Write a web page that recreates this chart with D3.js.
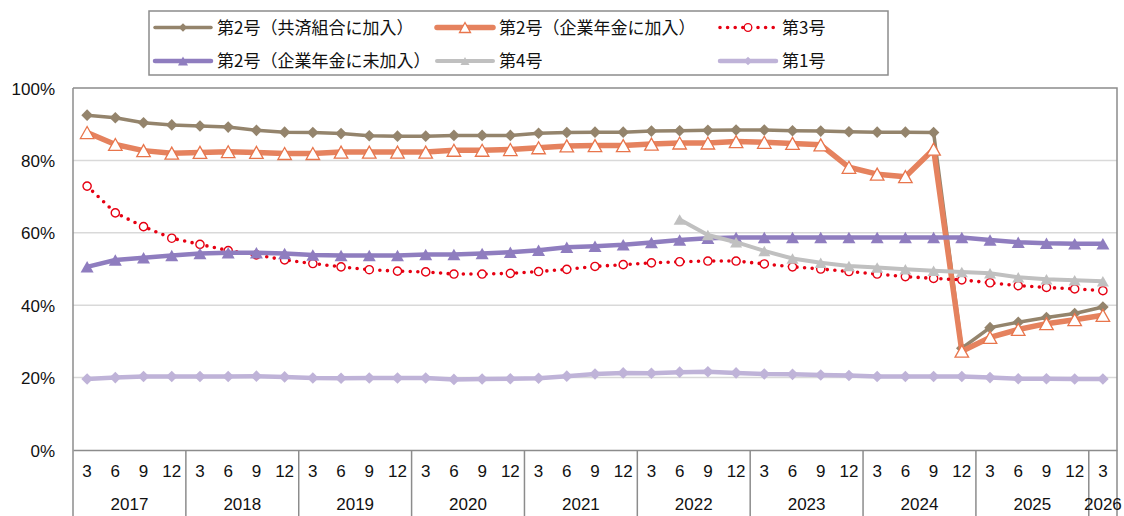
<!DOCTYPE html>
<html>
<head>
<meta charset="utf-8">
<script src="https://cdn.jsdelivr.net/npm/d3@7"></script>
<style>
  html, body { margin: 0; padding: 0; background: #fff; }
  svg { display: block; }
  .num { font-family: "Liberation Sans", Arial, sans-serif; font-size: 17px; fill: #111; }
  .leg { font-family: "Noto Sans CJK JP", sans-serif; font-size: 17px; fill: #111; }
</style>
</head>
<body>
<svg id="chart" width="1124" height="516"></svg>
<script>
// Quarter-end months, 2017-3 through 2026-3
const months = [3,6,9,12, 3,6,9,12, 3,6,9,12, 3,6,9,12, 3,6,9,12,
                3,6,9,12, 3,6,9,12, 3,6,9,12, 3,6,9,12, 3];
const years  = [2017,2017,2017,2017, 2018,2018,2018,2018, 2019,2019,2019,2019,
                2020,2020,2020,2020, 2021,2021,2021,2021, 2022,2022,2022,2022,
                2023,2023,2023,2023, 2024,2024,2024,2024, 2025,2025,2025,2025, 2026];
const yTicks = [0, 20, 40, 60, 80, 100];

// Shares (%) per quarter
const kyosai = [92.5,91.8,90.4,89.8, 89.5,89.2,88.3,87.8, 87.7,87.4,86.8,86.7,
                86.7,86.9,86.9,86.9, 87.5,87.7,87.8,87.8, 88.1,88.2,88.3,88.4,
                88.4,88.2,88.1,87.9, 87.8,87.8,87.7,28.1, 33.8,35.3,36.6,37.7, 39.5];
const kigyoKanyu = [87.7,84.4,82.7,82.0, 82.2,82.4,82.2,81.9, 81.9,82.3,82.3,82.3,
                82.3,82.8,82.8,83.0, 83.5,84.0,84.1,84.1, 84.5,84.8,84.8,85.2,
                85.0,84.7,84.3,78.1, 76.2,75.5,83.1,27.3, 31.1,33.3,34.9,36.0, 37.2];
const dai3 = [72.9,65.5,61.7,58.5, 56.8,55.1,53.9,52.5, 51.5,50.6,49.8,49.4,
              49.2,48.6,48.6,48.8, 49.3,49.9,50.7,51.2, 51.7,52.0,52.2,52.2,
              51.4,50.6,50.0,49.3, 48.6,47.9,47.4,47.0, 46.2,45.4,44.9,44.5, 44.0];
const kigyoMikanyu = [50.6,52.5,53.1,53.7, 54.3,54.5,54.5,54.3, 53.9,53.7,53.7,53.7,
              54.0,54.0,54.3,54.6, 55.2,56.0,56.3,56.7, 57.3,58.0,58.5,58.7,
              58.7,58.7,58.7,58.7, 58.7,58.7,58.7,58.7, 58.0,57.4,57.1,57.0, 57.0];
const dai4 = [null,null,null,null, null,null,null,null, null,null,null,null,
              null,null,null,null, null,null,null,null, null,63.7,59.4,57.4,
              55.0,52.9,51.7,50.8, 50.4,49.9,49.5,49.2, 48.8,47.7,47.2,46.9, 46.6];
const dai1 = [19.6,20.0,20.3,20.3, 20.3,20.3,20.4,20.2, 19.9,19.8,19.9,19.9,
              19.9,19.5,19.6,19.7, 19.8,20.4,21.0,21.3, 21.2,21.5,21.6,21.3,
              21.0,20.9,20.7,20.6, 20.3,20.3,20.3,20.3, 20.0,19.7,19.7,19.6, 19.6];

const seriesNames = ["第2号（共済組合に加入）", "第2号（企業年金に加入）", "第3号",
                     "第2号（企業年金に未加入）", "第4号", "第1号"];

const svg = d3.select("#chart");
const L = 73, R = 1117, T = 88, B = 450;

const x = d3.scaleBand().domain(d3.range(months.length)).range([L, R]);
const y = d3.scaleLinear().domain([0, 100]).range([B, T]);
const cx = i => x(i) + x.bandwidth() / 2;

// gridlines
svg.append("g").selectAll("line").data(yTicks.filter(t => t > 0 && t < 100)).join("line")
  .attr("x1", L).attr("x2", R).attr("y1", d => y(d)).attr("y2", d => y(d))
  .attr("stroke", "#d9d9d9").attr("stroke-width", 1.5);

// plot frame (top, right)
svg.append("path")
  .attr("d", `M${L},${y(100)}H${R}V516`)
  .attr("fill", "none").attr("stroke", "#8c8c8c").attr("stroke-width", 1.5);

// y axis
const yAxis = svg.append("g").attr("transform", `translate(${L},0)`)
  .call(d3.axisLeft(y).tickValues(yTicks).tickFormat(d => d + "%").tickSize(0).tickPadding(18));
yAxis.select(".domain").remove();
yAxis.selectAll("text").attr("class", "num").attr("dy", "0.36em");
svg.append("line").attr("x1", L).attr("x2", L).attr("y1", T).attr("y2", 516)
  .attr("stroke", "#8c8c8c").attr("stroke-width", 1.5);

// x axis baseline + month labels
const xAxis = svg.append("g").attr("transform", `translate(0,${B})`)
  .call(d3.axisBottom(x).tickFormat(i => months[i]).tickSize(0));
xAxis.select(".domain").attr("stroke", "#8c8c8c").attr("stroke-width", 1.5);
xAxis.selectAll("text").attr("class", "num").attr("y", 27).attr("dy", 0);

// year groups
const yearGroups = d3.groups(d3.range(years.length), i => years[i]);
svg.append("g").selectAll("line").data(yearGroups.slice(1)).join("line")
  .attr("x1", d => x(d[1][0])).attr("x2", d => x(d[1][0]))
  .attr("y1", B).attr("y2", 516)
  .attr("stroke", "#8c8c8c").attr("stroke-width", 1.5);
svg.append("g").selectAll("text").data(yearGroups).join("text")
  .attr("class", "num")
  .attr("x", d => (x(d[1][0]) + x(d[1][d[1].length - 1]) + x.bandwidth()) / 2)
  .attr("y", 510)
  .attr("text-anchor", "middle")
  .text(d => d[0]);

// marker shapes
const diamond = s => `M0,${-s}L${s},0L0,${s}L${-s},0Z`;
const triangle = (w, h) => `M0,${-h/2}L${w/2},${h/2}L${-w/2},${h/2}Z`;

const series = [
  { name: seriesNames[0], values: kyosai, color: "#94846c", width: 3.5,
    marker: { d: diamond(5.8), fill: "#94846c", stroke: "none" },
    legendMarker: { d: diamond(4.2), fill: "#94846c", stroke: "none" } },
  { name: seriesNames[1], values: kigyoKanyu, color: "#e5825e", width: 5.5,
    marker: { d: triangle(13.5, 12), fill: "#fff", stroke: "#e8754c", sw: 1.3 },
    legendMarker: { d: triangle(11, 10), fill: "#fff", stroke: "#e8754c", sw: 1.3 } },
  { name: seriesNames[2], values: dai3, color: "#e60012", width: 3.6, dash: "0 7.6",
    marker: { circle: 4.1, fill: "#fff", stroke: "#e60012", sw: 1.4 },
    legendMarker: { circle: 3.8, fill: "#fff", stroke: "#e60012", sw: 1.3 } },
  { name: seriesNames[3], values: kigyoMikanyu, color: "#8f7dbf", width: 4.5,
    marker: { d: triangle(13, 11.5), fill: "#8f7dbf", stroke: "none" },
    legendMarker: { d: triangle(10, 9), fill: "#8f7dbf", stroke: "none" } },
  { name: seriesNames[4], values: dai4, color: "#c0c0c0", width: 4,
    marker: { d: triangle(12, 10.5), fill: "#c0c0c0", stroke: "none" },
    legendMarker: { d: triangle(9, 8), fill: "#c0c0c0", stroke: "none" } },
  { name: seriesNames[5], values: dai1, color: "#bfb3d8", width: 4.5,
    marker: { d: diamond(5.8), fill: "#bfb3d8", stroke: "none" },
    legendMarker: { d: diamond(4.2), fill: "#bfb3d8", stroke: "none" } }
];

const line = d3.line()
  .defined(d => d.v !== null)
  .x(d => cx(d.i)).y(d => y(d.v));

function drawMarker(sel, m) {
  if (m.circle) {
    sel.append("circle").attr("r", m.circle)
      .attr("fill", m.fill).attr("stroke", m.stroke).attr("stroke-width", m.sw);
  } else {
    sel.append("path").attr("d", m.d)
      .attr("fill", m.fill).attr("stroke", m.stroke).attr("stroke-width", m.sw || 0)
      .attr("stroke-linejoin", "miter");
  }
}

const plot = svg.append("g");
series.forEach(s => {
  const pts = s.values.map((v, i) => ({ i, v }));
  const g = plot.append("g");
  g.append("path").datum(pts)
    .attr("d", line)
    .attr("fill", "none")
    .attr("stroke", s.color)
    .attr("stroke-width", s.width)
    .attr("stroke-linejoin", "round")
    .attr("stroke-linecap", "round")
    .attr("stroke-dasharray", s.dash || null);
  g.selectAll("g.m").data(pts.filter(p => p.v !== null)).join("g")
    .attr("class", "m")
    .attr("transform", p => `translate(${cx(p.i)},${y(p.v)})`)
    .each(function () { drawMarker(d3.select(this), s.marker); });
});

// legend
const legend = svg.append("g");
legend.append("rect")
  .attr("x", 149).attr("y", 11).attr("width", 739).attr("height", 64)
  .attr("fill", "#fff").attr("stroke", "#8c8c8c").attr("stroke-width", 1.5);
const legCols = [155, 437, 720];
const legRows = [27.5, 61];
series.forEach((s, k) => {
  const lx = legCols[k % 3], ly = legRows[Math.floor(k / 3)];
  const g = legend.append("g");
  g.append("line")
    .attr("x1", lx).attr("x2", lx + 56).attr("y1", ly).attr("y2", ly)
    .attr("stroke", s.color).attr("stroke-width", s.width)
    .attr("stroke-linecap", "round")
    .attr("stroke-dasharray", s.dash || null);
  const mg = g.append("g").attr("transform", `translate(${lx + 28},${ly})`);
  drawMarker(mg, s.legendMarker);
  g.append("text").attr("class", "leg")
    .attr("x", lx + 62).attr("y", ly).attr("dy", "0.36em")
    .text(s.name);
});
</script>
</body>
</html>
